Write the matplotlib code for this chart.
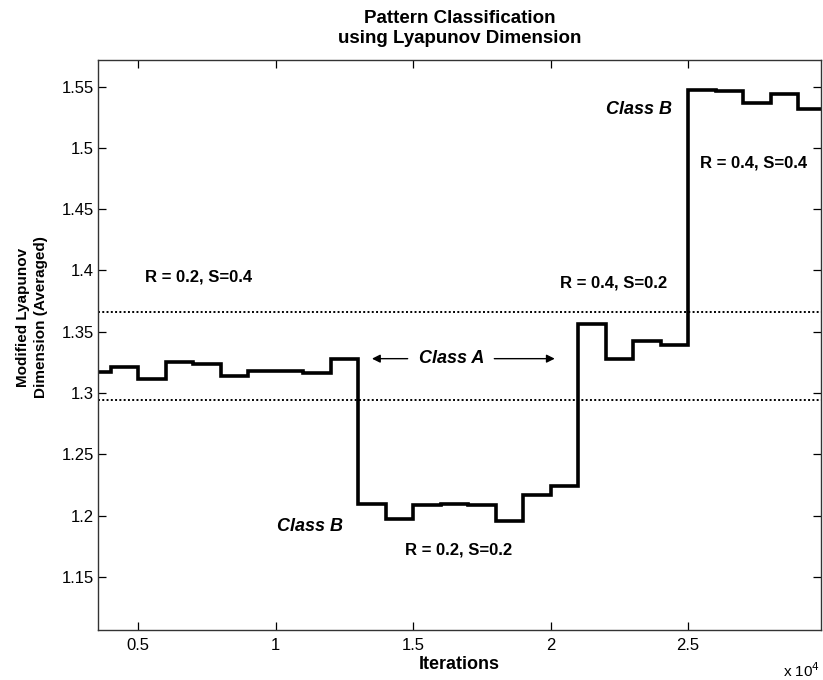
import matplotlib
matplotlib.use("Agg")
import matplotlib.pyplot as plt
import numpy as np

plt.rcParams['font.family'] = ['Liberation Sans', 'DejaVu Sans']

# step edges (iterations) and averaged Lyapunov dimension for each block
edges = [3000, 4000, 5000, 6000, 7000, 8000, 9000, 10000, 11000, 12000, 13000,
         14000, 15000, 16000, 17000, 18000, 19000, 20000, 21000, 22000, 23000,
         24000, 25000, 26000, 27000, 28000, 29000, 30000]
values = [1.3171, 1.3211, 1.3117, 1.3252, 1.3239, 1.3136, 1.3179, 1.3177,
          1.3163, 1.3280, 1.2095, 1.1970, 1.2087, 1.2093, 1.2089, 1.1957,
          1.2168, 1.2244, 1.3559, 1.3274, 1.3423, 1.3394, 1.5468, 1.5462,
          1.5365, 1.5441, 1.5316]
thresholds = [1.3657, 1.2940]

fig = plt.figure(figsize=(8.23, 6.8), dpi=100)
ax = fig.add_axes([0.119, 0.0735, 0.8785, 0.8383])

ax.stairs(values, edges, color='k', lw=2.6, baseline=None)
for t in thresholds:
    ax.axhline(t, color='k', ls=(0, (1, 1.2)), lw=1.4)

ax.set_xlim(3535, 29830)
ax.set_ylim(1.1066, 1.5717)
ax.set_xticks([5000, 10000, 15000, 20000, 25000])
ax.set_xticklabels(['0.5', '1', '1.5', '2', '2.5'])
ax.set_yticks([1.15, 1.2, 1.25, 1.3, 1.35, 1.4, 1.45, 1.5, 1.55])
ax.set_yticklabels(['1.15', '1.2', '1.25', '1.3', '1.35', '1.4', '1.45', '1.5', '1.55'])
ax.tick_params(direction='in', top=True, right=True, labelsize=12, length=6, width=0.9)
ax.tick_params(axis='y', pad=3)
ax.tick_params(axis='x', pad=6)
for s in ax.spines.values():
    s.set_linewidth(1.0)
    s.set_color('#333333')

ax.set_title('Pattern Classification\nusing Lyapunov Dimension', fontsize=13.5,
             fontweight='bold', pad=12, linespacing=1.25)
ax.set_xlabel('Iterations', fontsize=13, fontweight='bold', labelpad=2)
ax.set_ylabel('Modified Lyapunov\nDimension (Averaged)', fontsize=11,
              fontweight='bold', linespacing=1.35)
ax.yaxis.set_label_coords(-0.069, 0.549)
fig.text(0.951, 0.0, r'x 10$^4$', fontsize=11, ha='left', va='bottom')

bold = dict(fontsize=12, fontweight='bold', va='center')
ital = dict(fontsize=13, fontweight='bold', style='italic', va='center')
ax.text(5240, 1.3943, 'R = 0.2, S=0.4', ha='left', **bold)
ax.text(20335, 1.390, 'R = 0.4, S=0.2', ha='left', **bold)
ax.text(25430, 1.488, 'R = 0.4, S=0.4', ha='left', **bold)
ax.text(16660, 1.1715, 'R = 0.2, S=0.2', ha='center', **bold)
ax.text(24400, 1.531, 'Class B', ha='right', **ital)
ax.text(12440, 1.191, 'Class B', ha='right', **ital)
ax.text(16400, 1.328, 'Class A', ha='center', **ital)
ax.annotate('', xy=(13400, 1.328), xytext=(14900, 1.328),
            arrowprops=dict(arrowstyle='-|>', color='k', lw=1.0, mutation_scale=12))
ax.annotate('', xy=(20250, 1.328), xytext=(17850, 1.328),
            arrowprops=dict(arrowstyle='-|>', color='k', lw=1.0, mutation_scale=12))

fig.savefig('out.png', dpi=100)
